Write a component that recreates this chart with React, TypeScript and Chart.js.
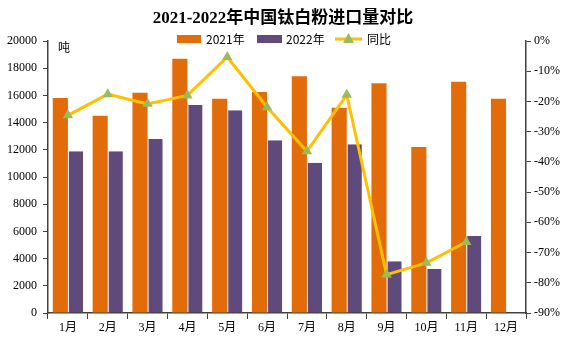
import React, { useEffect, useRef } from 'react';
import { Chart, registerables } from 'chart.js';

Chart.register(...registerables);

const categories = ['1月', '2月', '3月', '4月', '5月', '6月', '7月', '8月', '9月', '10月', '11月', '12月'];
const imports2021 = [15800, 14500, 16200, 18700, 15750, 16250, 17400, 15100, 16900, 12200, 17000, 15750];
const imports2022 = [11900, 11900, 12800, 15300, 14900, 12700, 11050, 12400, 3800, 3230, 5660, null];
const yoyChange = [-24.6, -17.6, -20.8, -18.0, -5.3, -21.9, -36.5, -17.8, -77.3, -73.4, -66.5, null];

const titleText = '2021-2022年中国钛白粉进口量对比';
const unitText = '吨';
const seriesNames = ['2021年', '2022年', '同比'];

const ORANGE = '#E36C0A';
const PURPLE = '#604A7B';
const YELLOW = '#FFC000';
const GREEN = '#9BBB59';
const AXIS = '#404040';
const FONT = '"Liberation Serif", "Noto Sans CJK SC", serif';
const CJK = '"Noto Sans CJK SC", "Liberation Sans", sans-serif';

const overlayPlugin = {
  id: 'overlay',
  afterDraw(chart: any) {
    const ctx = chart.ctx as CanvasRenderingContext2D;
    ctx.save();
    ctx.fillStyle = '#000';
    ctx.font = `bold 17px ${FONT}`;
    ctx.textAlign = 'center';
    ctx.textBaseline = 'middle';
    ctx.fillText(titleText, 283, 19);

    ctx.font = `12px ${CJK}`;
    ctx.textAlign = 'left';
    const ly = 39;
    ctx.fillStyle = ORANGE;
    ctx.fillRect(177, ly - 4, 24, 8);
    ctx.fillStyle = '#000';
    ctx.fillText(seriesNames[0], 206, ly);
    ctx.fillStyle = PURPLE;
    ctx.fillRect(257, ly - 4, 25, 8);
    ctx.fillStyle = '#000';
    ctx.fillText(seriesNames[1], 286, ly);
    ctx.strokeStyle = YELLOW;
    ctx.lineWidth = 3;
    ctx.beginPath();
    ctx.moveTo(335, ly);
    ctx.lineTo(362, ly);
    ctx.stroke();
    ctx.fillStyle = GREEN;
    ctx.beginPath();
    ctx.moveTo(348.5, ly - 6);
    ctx.lineTo(354, ly + 4);
    ctx.lineTo(343, ly + 4);
    ctx.closePath();
    ctx.fill();
    ctx.fillStyle = '#000';
    ctx.fillText(seriesNames[2], 367, ly);

    ctx.font = `12px ${CJK}`;
    ctx.fillText(unitText, 58, 47);
    ctx.restore();
  },
};

export default function App() {
  const ref = useRef<HTMLCanvasElement>(null);
  useEffect(() => {
    if (!ref.current) return;
    const chart = new Chart(ref.current, {
      type: 'bar',
      data: {
        labels: categories,
        datasets: [
          {
            type: 'line',
            label: seriesNames[2],
            data: yoyChange,
            yAxisID: 'y1',
            borderColor: YELLOW,
            borderWidth: 3,
            backgroundColor: GREEN,
            pointStyle: 'triangle',
            pointRadius: 6,
            pointBackgroundColor: GREEN,
            pointBorderColor: GREEN,
            pointBorderWidth: 0,
            tension: 0,
            order: 0,
          } as any,
          {
            type: 'bar',
            label: seriesNames[0],
            data: imports2021,
            yAxisID: 'y',
            backgroundColor: ORANGE,
            categoryPercentage: 0.76,
            barPercentage: 1,
            order: 1,
          },
          {
            type: 'bar',
            label: seriesNames[1],
            data: imports2022,
            yAxisID: 'y',
            backgroundColor: PURPLE,
            borderColor: '#ffffff',
            borderWidth: { left: 1, top: 0, right: 0, bottom: 0 },
            borderSkipped: false,
            categoryPercentage: 0.76,
            barPercentage: 1,
            order: 1,
          } as any,
        ],
      },
      options: {
        responsive: false,
        animation: false,
        layout: { padding: { top: 41, left: 0, right: 0, bottom: 0 } },
        plugins: {
          legend: { display: false },
          title: { display: false },
          tooltip: { enabled: false },
        },
        scales: {
          x: {
            grid: { display: true, drawOnChartArea: false, drawTicks: true, tickLength: 6, color: AXIS, offset: true },
            border: { display: true, color: AXIS, width: 1.5 },
            ticks: { color: '#000', font: { family: FONT, size: 12 }, padding: 2, maxRotation: 0 },
            afterFit(scale: any) { scale.height = 28; },
          },
          y: {
            position: 'left',
            min: 0,
            max: 20000,
            ticks: {
              stepSize: 2000,
              color: '#000',
              font: { family: FONT, size: 12 },
              padding: 6,
              callback: (v: any) => String(v),
            },
            grid: { display: true, drawOnChartArea: false, drawTicks: true, tickLength: 5, color: AXIS },
            border: { display: true, color: AXIS, width: 1.5 },
            afterFit(scale: any) { scale.width = 48; },
          },
          y1: {
            position: 'right',
            min: -90,
            max: 0,
            ticks: {
              stepSize: 10,
              color: '#000',
              font: { family: FONT, size: 12 },
              padding: 3,
              callback: (v: any) => `${v}%`,
            },
            grid: { display: true, drawOnChartArea: false, drawTicks: true, tickLength: 5, color: AXIS },
            border: { display: true, color: AXIS, width: 1.5 },
            afterFit(scale: any) { scale.width = 41; },
          },
        },
      },
      plugins: [overlayPlugin],
    });
    return () => chart.destroy();
  }, []);
  return (
    <div style={{ position: 'fixed', left: 0, top: 0, width: 567, height: 341, background: '#fff' }}>
      <canvas ref={ref} width={567} height={341} style={{ width: 567, height: 341, display: 'block' }} />
    </div>
  );
}
